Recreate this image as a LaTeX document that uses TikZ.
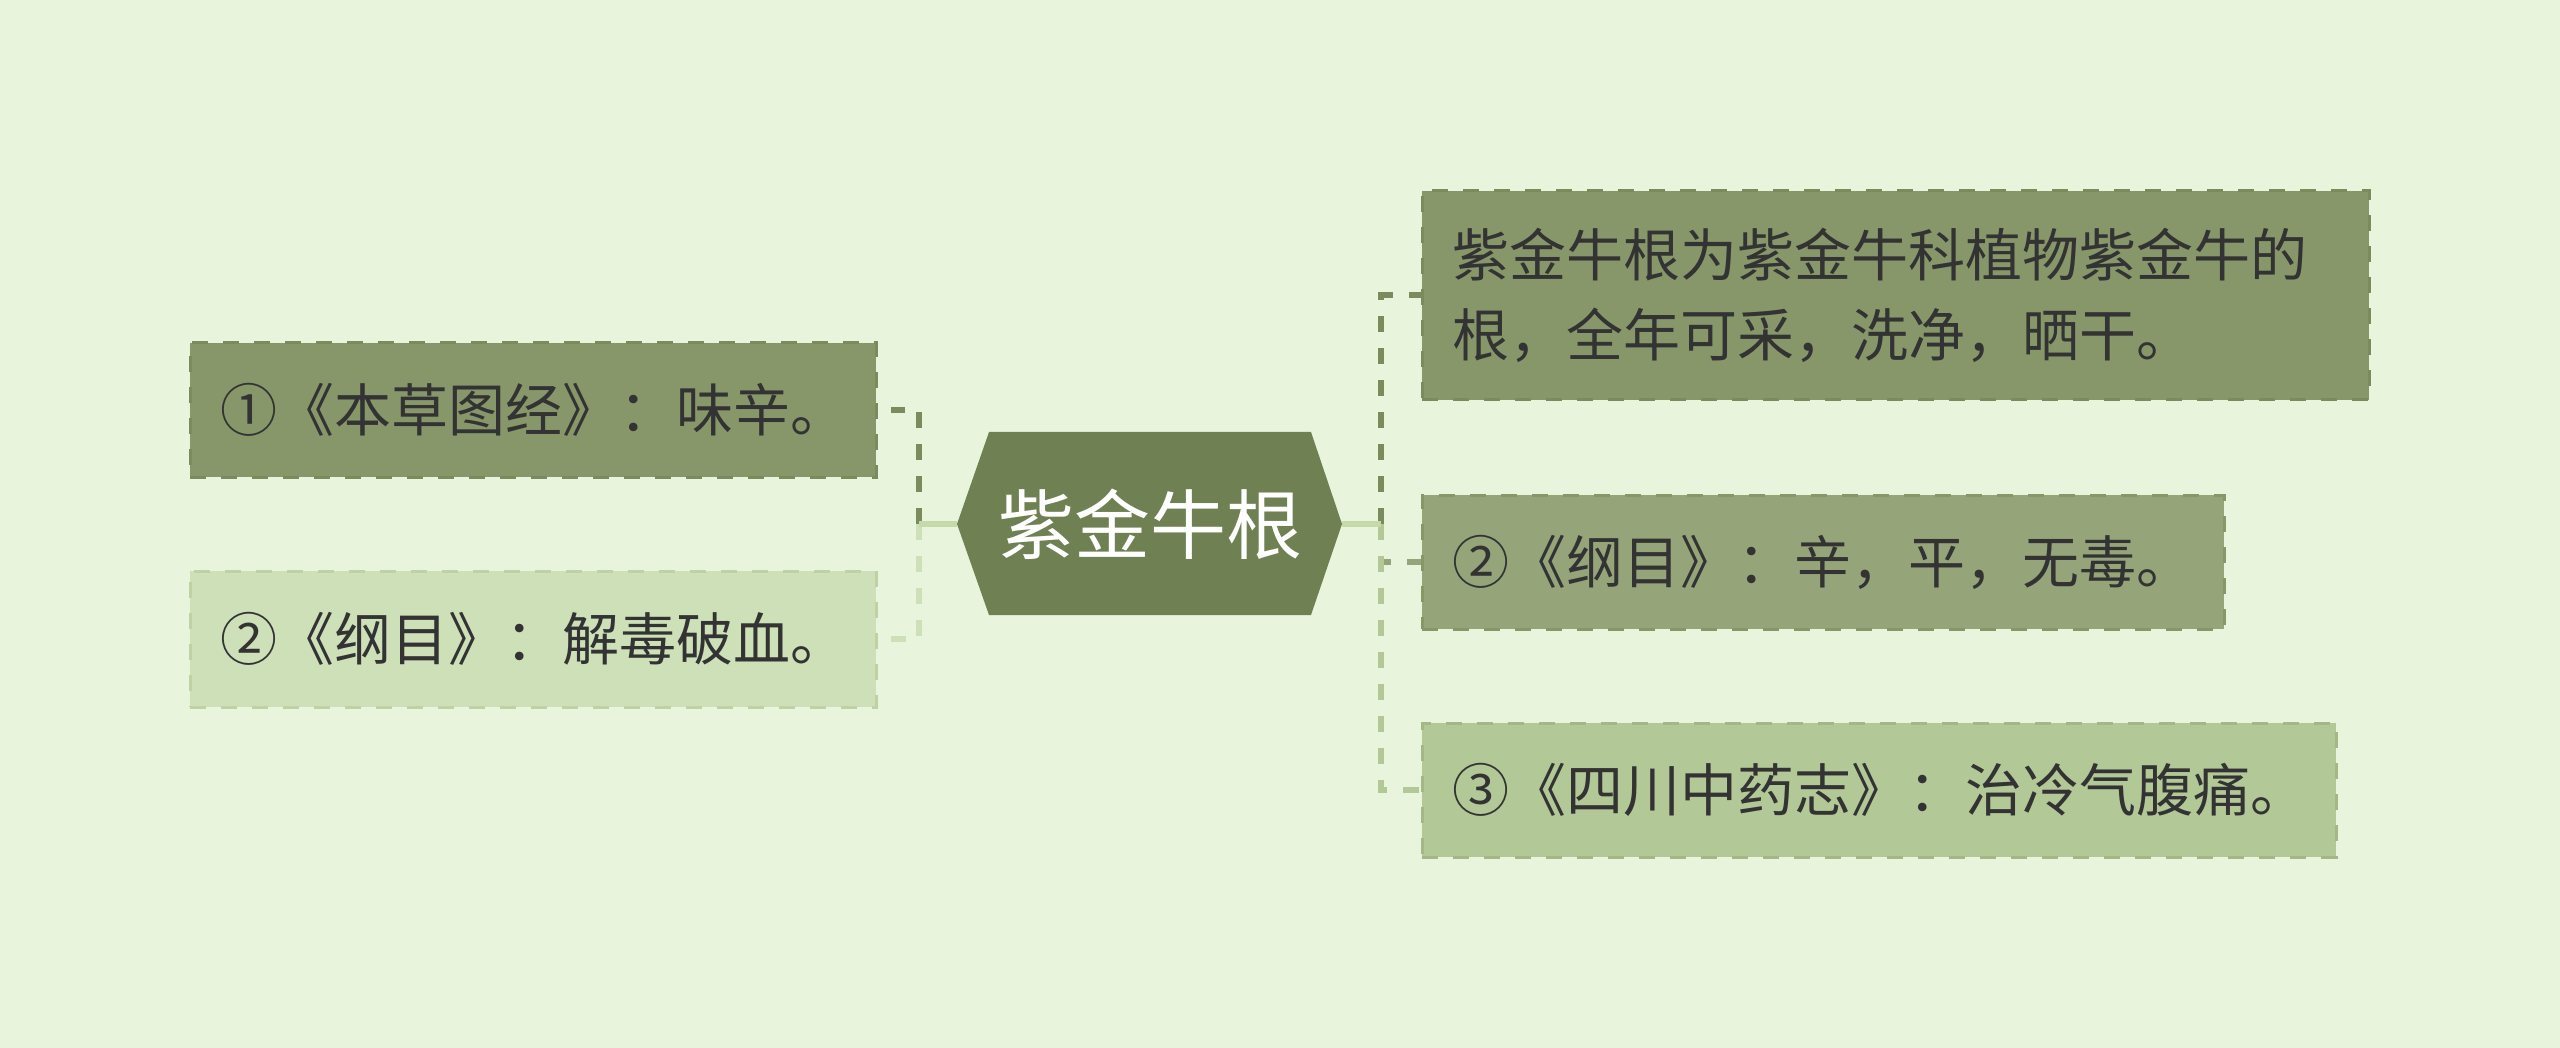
\documentclass[tikz,border=0pt]{standalone}
\usepackage{fontspec}
\setmainfont{Noto Sans CJK SC}
\begin{document}
\definecolor{bg}{HTML}{E8F5DC}
\definecolor{hexc}{HTML}{6F8152}
\definecolor{cA}{HTML}{87976A}
\definecolor{cAb}{HTML}{7A8B5D}
\definecolor{cB}{HTML}{95A579}
\definecolor{cBb}{HTML}{879868}
\definecolor{cC}{HTML}{B3C897}
\definecolor{cCb}{HTML}{A3B886}
\definecolor{cD}{HTML}{CDE0B7}
\definecolor{cDb}{HTML}{BED2A6}
\definecolor{solidc}{HTML}{C5D9AB}
\definecolor{txt}{HTML}{333333}
\begin{tikzpicture}[x=1pt,y=-1pt,
  box/.style={line width=3pt, dash pattern=on 16pt off 15pt, rectangle,
    inner xsep=30pt, inner ysep=0pt, align=left, text=txt,
    font=\fontsize{57}{80}\selectfont},
  link/.style={line width=6pt, dash pattern=on 16pt off 16pt},
  hub/.style={line width=6pt, solidc}]
\fill[bg] (0,0) rectangle (2560,1048);
\useasboundingbox (0,0) rectangle (2560,1048);
% center hexagon
\fill[hexc] (957,524) -- (989,432) -- (1311,432) -- (1342,524) -- (1311,615) -- (989,615) -- cycle;
\node[text=white, font=\fontsize{76}{80}\selectfont] (root) at (1150,524) {紫金牛根};
\coordinate (cl) at (957,524);
\coordinate (cr) at (1342,524);
\coordinate (jl) at (919,524);
\coordinate (jr) at (1381,524);
% boxes
\node[box, fill=cA, draw=cAb, text width=626pt, minimum height=134pt] (l1) at (533,410) {①《本草图经》：味辛。};
\node[box, fill=cD, draw=cDb, text width=626pt, minimum height=136pt] (l2) at (533,639) {②《纲目》：解毒破血。};
\node[box, fill=cA, draw=cAb, text width=887pt, minimum height=209pt] (r1) at (1895.5,295.5) {紫金牛根为紫金牛科植物紫金牛的\\根，全年可采，洗净，晒干。};
\node[box, fill=cB, draw=cBb, text width=742pt, minimum height=134pt] (r2) at (1823,562) {②《纲目》：辛，平，无毒。};
\node[box, fill=cC, draw=cCb, text width=854pt, minimum height=134pt] (r3) at (1879,790) {③《四川中药志》：治冷气腹痛。};
% connectors
\draw[link, cAb] (jl) |- ([xshift=13pt]l1.east);
\draw[link, cD] (jl) |- ([xshift=13pt]l2.east);
\draw[link, cAb] (jr) |- (r1.west);
\draw[link, cB] (jr) |- (r2.west);
\draw[link, cC] (jr) |- (r3.west);
\draw[hub] (cl) -- (jl);
\draw[hub] (cr) -- (jr);
\end{tikzpicture}
\end{document}
